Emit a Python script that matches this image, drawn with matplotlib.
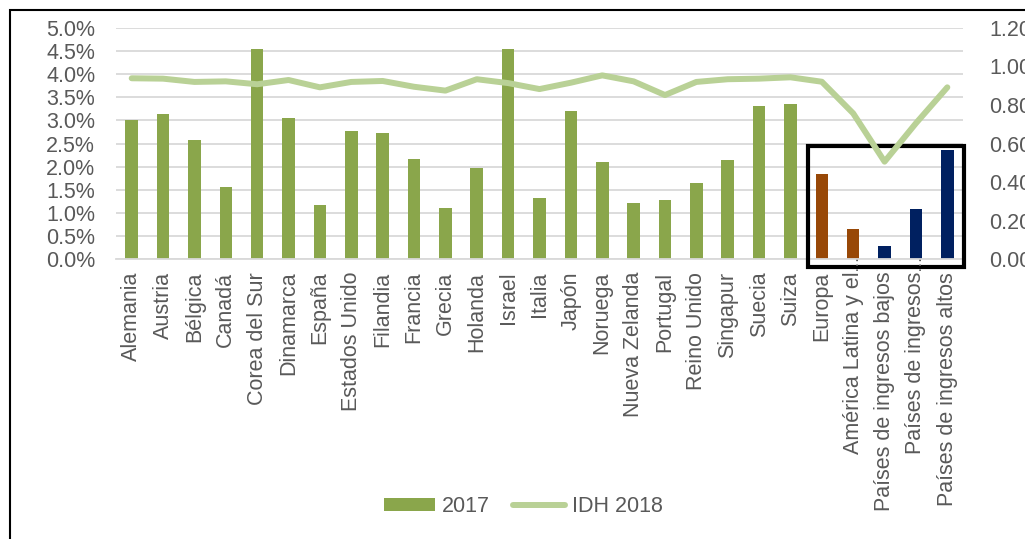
import matplotlib.pyplot as plt
from matplotlib.patches import Rectangle
from matplotlib.ticker import FuncFormatter, MultipleLocator

plt.rcParams['font.family'] = ['Liberation Sans', 'DejaVu Sans']

# datos
paises = ['Alemania', 'Austria', 'Bélgica', 'Canadá', 'Corea del Sur', 'Dinamarca',
          'España', 'Estados Unido', 'Filandia', 'Francia', 'Grecia', 'Holanda',
          'Israel', 'Italia', 'Japón', 'Noruega', 'Nueva Zelanda', 'Portugal',
          'Reino Unido', 'Singapur', 'Suecia', 'Suiza', 'Europa',
          'América Latina y el', 'Países de ingresos bajos', 'Países de ingresos',
          'Países de ingresos altos']
gasto_2017 = [3.01, 3.14, 2.58, 1.57, 4.54, 3.04, 1.18, 2.77, 2.73, 2.17, 1.10, 1.97,
              4.53, 1.33, 3.20, 2.09, 1.22, 1.29, 1.65, 2.14, 3.31, 3.35, 1.85,
              0.65, 0.29, 1.09, 2.36]
idh_2018 = [0.938, 0.936, 0.919, 0.922, 0.907, 0.929, 0.891, 0.919, 0.924, 0.894,
            0.874, 0.933, 0.913, 0.882, 0.915, 0.953, 0.922, 0.851, 0.919, 0.933,
            0.936, 0.943, 0.920, 0.756, 0.506, 0.705, 0.891]
grupo = ['pais'] * 22 + ['region'] * 2 + ['ingreso'] * 3
truncados = ['América Latina y el', 'Países de ingresos']

colores = {'pais': '#8AA64B', 'region': '#984807', 'ingreso': '#002060'}
gris = '#595959'
W, H = 1025, 539

fig = plt.figure(figsize=(W / 100, H / 100), dpi=100)
ax = fig.add_axes([116 / W, 1 - 259.3 / H, (963 - 116) / W, (259.3 - 27.7) / H])
ax2 = ax.twinx()

x = list(range(len(paises)))
barras = ax.bar(x, gasto_2017, width=0.4, color=[colores[g] for g in grupo],
                zorder=2, label='2017')
linea, = ax2.plot(x, idh_2018, color='#B9D196', lw=4.3, solid_capstyle='round',
                  solid_joinstyle='round', zorder=5, label='IDH 2018')

ax.set_xlim(-0.5, len(paises) - 0.5)
ax.set_ylim(0, 5)
ax2.set_ylim(0, 1.2)
ax.yaxis.set_major_locator(MultipleLocator(0.5))
ax.yaxis.set_major_formatter(FuncFormatter(lambda v, p: f'{v:.1f}%'))
ax2.yaxis.set_major_locator(MultipleLocator(0.2))
ax2.yaxis.set_major_formatter(FuncFormatter(lambda v, p: f'{v:.2f}'))
ax.grid(axis='y', color='#D9D9D9', lw=1.3, zorder=0)
ax.set_axisbelow(True)

ax.set_xticks(x)
ax.set_xticklabels(paises, rotation=90, va='top', ha='center')
ax.tick_params(axis='x', length=0, pad=9, labelsize=15.5, labelcolor=gris)
ax.tick_params(axis='y', length=0, pad=15, labelsize=15.5, labelcolor=gris)
ax2.tick_params(axis='y', length=0, pad=19, labelsize=15.5, labelcolor=gris)
for a in (ax, ax2):
    for s in a.spines.values():
        s.set_visible(False)
ax.spines['bottom'].set_visible(True)
ax.spines['bottom'].set_color('#D9D9D9')
ax.spines['bottom'].set_linewidth(1.3)

# puntos suspensivos de las etiquetas cortadas
for i, p in enumerate(paises):
    if p in truncados:
        ax.text(i, -0.012, '…', rotation=90, ha='center', va='center',
                fontsize=11, color=gris, transform=ax.get_xaxis_transform(),
                zorder=6)

# recuadro de regiones
ax.add_patch(Rectangle((21.56, -0.17), 4.97, 2.62, fill=False, ec='black', lw=3,
                       clip_on=False, zorder=4))

# marco exterior
fig.patches.append(Rectangle((10 / W, -0.1), 1.2, 1 - 10 / H + 0.1, fill=False,
                             ec='black', lw=1.5, transform=fig.transFigure))

fig.legend([barras, linea], ['2017', 'IDH 2018'], loc='center', ncol=2,
           bbox_to_anchor=(523 / W, 1 - 507 / H), frameon=False, fontsize=15.5,
           labelcolor=gris, handlelength=2.4, handleheight=0.55,
           handletextpad=0.3, columnspacing=1.1)

fig.savefig('out.png', dpi=100)
